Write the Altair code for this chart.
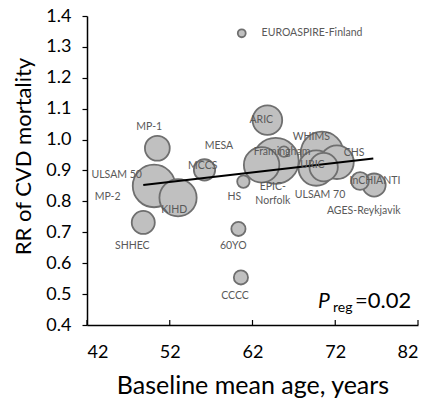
import altair as alt
import pandas as pd

# Study bubbles: baseline mean age (x), RR of CVD mortality (y), relative weight (bubble area)
studies = ["EUROASPIRE-Finland", "MP-1", "ULSAM 50", "MP-2", "KIHD", "SHHEC", "MCCS", "MESA",
           "HS", "60YO", "CCCC", "ARIC", "Framingham", "EPIC-Norfolk", "WHIMS", "URIC",
           "CHS", "ULSAM 70", "InCHIANTI", "AGES-Reykjavik"]
age = [60.7, 50.5, 50.1, 49.6, 53.0, 48.8, 56.2, 65.8,
       60.9, 60.3, 60.6, 63.8, 63.1, 64.8, 70.4, 69.7,
       72.2, 70.6, 75.0, 76.7]
rr = [1.344, 0.972, 0.850, 0.837, 0.812, 0.732, 0.902, 0.961,
      0.864, 0.711, 0.554, 1.063, 0.918, 0.931, 0.957, 0.908,
      0.927, 0.911, 0.866, 0.853]
weight = [20, 196, 576, 100, 441, 169, 144, 36,
          49, 64, 64, 279, 400, 676, 576, 400,
          361, 256, 100, 169]

# Label positions (data units)
label_text = ["MP-1", "ULSAM 50", "MP-2", "KIHD", "SHHEC", "MCCS", "MESA",
              "HS", "60YO", "CCCC", "ARIC", "Framingham", "EPIC-\nNorfolk", "WHIMS", "URIC",
              "CHS", "ULSAM 70", "InCHIANTI", "AGES-Reykjavik"]
label_x = [49.52, 45.59, 44.50, 52.55, 47.47, 55.98, 57.95,
           59.80, 59.68, 59.89, 63.06, 65.56, 64.45, 69.11, 69.25,
           74.27, 70.16, 76.80, 75.44]
label_y = [1.041, 0.885, 0.815, 0.772, 0.656, 0.915, 0.979,
           0.815, 0.656, 0.494, 1.063, 0.961, 0.846, 1.007, 0.918,
           0.958, 0.821, 0.867, 0.769]
left_label_text = ["EUROASPIRE-Finland"]
left_label_x = [63.1]
left_label_y = [1.345]

# Meta-regression line endpoints
reg_x = [48.8, 76.6]
reg_y = [0.853, 0.939]

x_ticks = [42, 52, 62, 72, 82]
y_ticks = [0.4, 0.5, 0.6, 0.7, 0.8, 0.9, 1.0, 1.1, 1.2, 1.3, 1.4]

W, H = 331, 309
FONT = "Lato"

bub = pd.DataFrame({"study": studies, "age": age, "rr": rr, "w": weight})
# draw larger bubbles first; MP-2 lies hidden beneath ULSAM 50
bub["rank"] = bub["w"].rank(ascending=False, method="first")
bub.loc[bub["study"] == "MP-2", "rank"] = 0
bub = bub.sort_values("rank").reset_index(drop=True)
bub["ord"] = range(len(bub))
lab = pd.DataFrame({"t": label_text, "x": label_x, "y": label_y})
lab_left = pd.DataFrame({"t": left_label_text, "x": left_label_x, "y": left_label_y})
reg = pd.DataFrame({"x": reg_x, "y": reg_y})
tk = pd.DataFrame({"x": x_ticks})

xs = alt.Scale(domain=[42, 82], nice=False, zero=False)
ys = alt.Scale(domain=[0.4, 1.4], nice=False, zero=False)

xaxis = alt.Axis(values=x_ticks, title="Baseline mean age, years", ticks=False,
                 labelFontSize=18, titleFontSize=25, labelPadding=18,
                 titleFont=FONT, labelFont=FONT, titleFontWeight="normal",
                 titleBaseline="alphabetic", titleY=68,
                 labelColor="#000000", titleColor="#000000", labelOverlap=False,
                 domainColor="#000000", domainWidth=1.5, grid=False)
yaxis = alt.Axis(values=y_ticks, title="RR of CVD mortality", format=".1f",
                 tickSize=5, tickColor="#000000", tickWidth=1.2,
                 labelFontSize=18, titleFontSize=22, labelPadding=11,
                 titleFont=FONT, labelFont=FONT, titleFontWeight="normal",
                 titleBaseline="alphabetic", titleX=-57, titleY=140,
                 labelColor="#000000", titleColor="#000000", labelOverlap=False,
                 domainColor="#000000", domainWidth=1.5, grid=False)


def X(field):
    return alt.X(field, scale=xs, axis=xaxis)


def Y(field):
    return alt.Y(field, scale=ys, axis=yaxis)


bubbles = alt.Chart(bub).mark_circle(opacity=1, fill="#c0c0c0", stroke="#6f6f6f",
                                     strokeWidth=1.8).encode(
    x=X("age:Q"),
    y=Y("rr:Q"),
    size=alt.Size("w:Q", scale=alt.Scale(domain=[0, 676], range=[0, 2124]), legend=None),
    order=alt.Order("ord:Q"),
)

line = alt.Chart(reg).mark_line(color="#000000", strokeWidth=2).encode(
    x=X("x:Q"), y=Y("y:Q"))

ticks = alt.Chart(tk).mark_rule(color="#000000", strokeWidth=1.2).encode(
    x=X("x:Q"), y=alt.value(H - 5), y2=alt.value(H))

labels = alt.Chart(lab).mark_text(font=FONT, fontSize=10.5, color="#595959",
                                  align="center", baseline="middle", lineBreak="\n",
                                  lineHeight=14).encode(
    x=X("x:Q"), y=Y("y:Q"), text="t:N")

labels_left = alt.Chart(lab_left).mark_text(font=FONT, fontSize=10.5, color="#595959",
                                            align="left", baseline="middle").encode(
    x=X("x:Q"), y=Y("y:Q"), text="t:N")

# P_reg annotation
p_df = pd.DataFrame({"t": ["P"], "x": [69.92], "y": [0.454]})
sub_df = pd.DataFrame({"t": ["reg"], "x": [71.73], "y": [0.442]})
eq_df = pd.DataFrame({"t": ["=0.02"], "x": [74.39], "y": [0.454]})
p_txt = alt.Chart(p_df).mark_text(font=FONT, fontSize=21, fontStyle="italic", align="left",
                                  baseline="alphabetic", color="#000000").encode(
    x=X("x:Q"), y=Y("y:Q"), text="t:N")
sub_txt = alt.Chart(sub_df).mark_text(font=FONT, fontSize=14, align="left",
                                      baseline="alphabetic", color="#000000").encode(
    x=X("x:Q"), y=Y("y:Q"), text="t:N")
eq_txt = alt.Chart(eq_df).mark_text(font=FONT, fontSize=22, align="left",
                                    baseline="alphabetic", color="#000000").encode(
    x=X("x:Q"), y=Y("y:Q"), text="t:N")

chart = alt.layer(bubbles, line, ticks, labels, labels_left, p_txt, sub_txt, eq_txt).properties(
    width=W, height=H,
    autosize=alt.AutoSizeParams(type="none"),
    padding={"left": 87, "top": 16, "right": 13, "bottom": 75},
    background="#ffffff",
).configure_view(stroke=None)

chart.save("out.html", embed_options={"renderer": "svg", "actions": False})
